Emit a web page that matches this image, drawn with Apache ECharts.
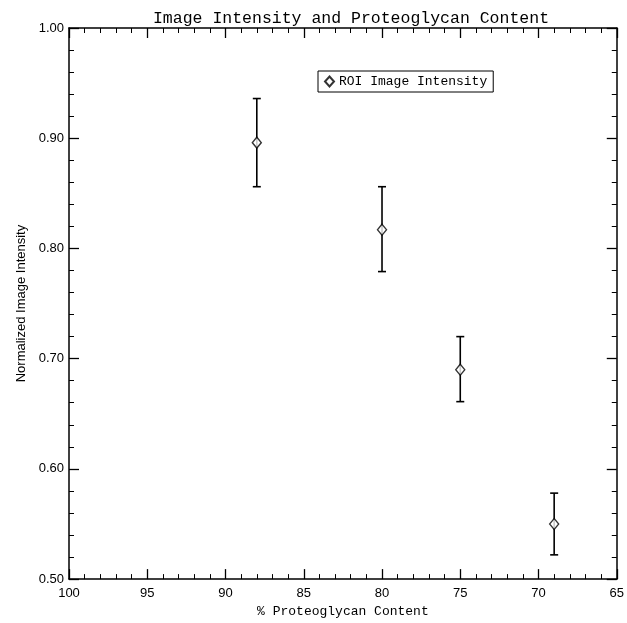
<!DOCTYPE html>
<html>
<head>
<meta charset="utf-8">
<script src="https://cdn.jsdelivr.net/npm/echarts@6/dist/echarts.min.js"></script>
<style>html,body{margin:0;padding:0;background:#fff;}#chart{width:627px;height:623px;}</style>
</head>
<body>
<div id="chart"></div>
<script>
const proteoglycan = [88, 80, 75, 69];
const intensity = [0.896, 0.817, 0.69, 0.55];
const errLow = [0.856, 0.779, 0.661, 0.522];
const errHigh = [0.936, 0.856, 0.72, 0.578];
const seriesName = 'ROI Image Intensity';
const titleText = 'Image Intensity and Proteoglycan Content';
const xName = '% Proteoglycan Content';
const yName = 'Normalized Image Intensity';

const chart = echarts.init(document.getElementById('chart'), null, {renderer: 'canvas'});
const axisLine = {show: true, lineStyle: {color: '#000', width: 1.5}};
const tick = {show: true, inside: true, length: 10, lineStyle: {color: '#000', width: 1.3}};
const minor = {show: true, splitNumber: 5, length: 5, lineStyle: {color: '#000', width: 1}};
const xBase = {type: 'value', min: 65, max: 100, interval: 5, inverse: true,
  axisLine: axisLine, axisTick: tick, minorTick: minor, splitLine: {show: false}};
const yBase = {type: 'value', min: 0.5, max: 1.0, interval: 0.1,
  axisLine: axisLine, axisTick: tick, minorTick: minor, splitLine: {show: false}};

chart.setOption({
  backgroundColor: '#fff',
  animation: false,
  title: {text: titleText, left: 346, top: 5, textAlign: 'center',
    textStyle: {fontFamily: 'Liberation Mono', fontSize: 16.5, fontWeight: 'normal', color: '#000'}},
  legend: {data: [seriesName], left: 318, top: 71, icon: 'diamond', itemWidth: 9, itemHeight: 10,
    itemGap: 4, padding: [4, 6, 4, 6], borderColor: '#000', borderWidth: 1,
    textStyle: {fontFamily: 'Liberation Mono', fontSize: 13, color: '#000'}},
  grid: {left: 69, right: 5, top: 28, bottom: 40},
  xAxis: [
    Object.assign({}, xBase, {position: 'bottom', name: xName, nameLocation: 'middle', nameGap: 24,
      nameTextStyle: {fontFamily: 'Liberation Mono', fontSize: 13, color: '#000'},
      axisLabel: {color: '#000', fontFamily: 'Liberation Sans', fontSize: 13, margin: 8}}),
    Object.assign({}, xBase, {position: 'top', axisLabel: {show: false}})
  ],
  yAxis: [
    Object.assign({}, yBase, {position: 'left', name: yName, nameLocation: 'middle', nameGap: 40,
      nameTextStyle: {fontFamily: 'Liberation Sans', fontSize: 13, color: '#000'},
      axisLabel: {color: '#000', fontFamily: 'Liberation Sans', fontSize: 13, margin: 5,
        formatter: v => v.toFixed(2)}}),
    Object.assign({}, yBase, {position: 'right', axisLabel: {show: false}})
  ],
  series: [
    {
      type: 'custom',
      name: 'err',
      xAxisIndex: 0, yAxisIndex: 0,
      data: proteoglycan.map((x, i) => [x, errLow[i], errHigh[i]]),
      encode: {x: 0, y: [1, 2]},
      z: 2,
      renderItem: function (params, api) {
        const x = api.value(0);
        const lo = api.coord([x, api.value(1)]);
        const hi = api.coord([x, api.value(2)]);
        const w = 4;
        const st = {stroke: '#000', lineWidth: 1.6};
        return {type: 'group', children: [
          {type: 'line', shape: {x1: lo[0], y1: lo[1], x2: hi[0], y2: hi[1]}, style: st},
          {type: 'line', shape: {x1: lo[0] - w, y1: lo[1], x2: lo[0] + w, y2: lo[1]}, style: st},
          {type: 'line', shape: {x1: hi[0] - w, y1: hi[1], x2: hi[0] + w, y2: hi[1]}, style: st}
        ]};
      }
    },
    {
      type: 'scatter',
      name: seriesName,
      xAxisIndex: 0, yAxisIndex: 0,
      z: 3,
      symbol: 'diamond',
      symbolSize: [9, 11],
      itemStyle: {color: '#fff', borderColor: '#000', borderWidth: 1.4},
      data: proteoglycan.map((x, i) => [x, intensity[i]])
    }
  ]
});
</script>
</body>
</html>
